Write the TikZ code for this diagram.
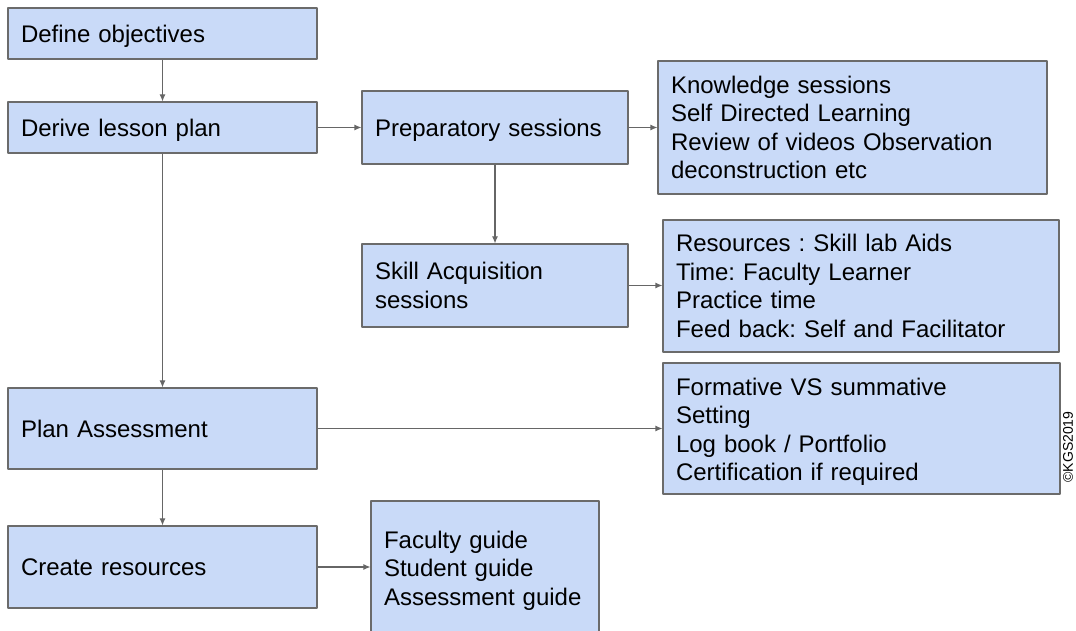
\documentclass[tikz,border=0pt]{standalone}
\usepackage{fontspec}
\setmainfont{Liberation Sans}
\usetikzlibrary{arrows.meta}
\definecolor{boxfill}{HTML}{C9DAF8}
\definecolor{boxline}{HTML}{6B6B6B}
\definecolor{linkline}{HTML}{666666}
\frenchspacing
\begin{document}
\begin{tikzpicture}[>={Latex[length=7bp,width=6bp]},line join=bevel,
  stagebox/.style={draw=boxline,line width=1.1bp,fill=boxfill,rectangle,
    inner xsep=13bp,inner ysep=0bp,align=left,
    font=\fontsize{24bp}{28.5bp}\selectfont},
  lowtext/.style={text depth=0bp},
  padtop/.style={execute at begin node={\rule{0bp}{24bp}}},
  link/.style={linkline,line width=1.1bp,->}]
%%
\useasboundingbox (0bp,0bp) rectangle (1076bp,631bp);
\clip (0bp,0bp) rectangle (1076bp,631bp);
%%
\node (node_objectives) at (162.5bp,597.5bp) [stagebox,lowtext,text width=283bp,minimum height=51bp] {Define objectives};
  \node (node_lesson) at (162.5bp,503.5bp) [stagebox,lowtext,text width=283bp,minimum height=51bp] {Derive lesson plan};
  \node (node_prep) at (495.0bp,503.5bp) [stagebox,lowtext,text width=240bp,minimum height=73bp] {Preparatory sessions};
  \node (node_knowledge) at (852.5bp,503.5bp) [stagebox,text width=363bp,minimum height=133bp] {Knowledge sessions\\Self Directed Learning\\Review of videos Observation\\deconstruction etc};
  \node (node_skill) at (495.0bp,345.5bp) [stagebox,text width=240bp,minimum height=83bp] {Skill Acquisition\\sessions};
  \node (node_resources) at (861.0bp,345.0bp) [stagebox,text width=370bp,minimum height=132bp] {Resources : Skill lab Aids\\Time: Faculty Learner\\Practice time\\Feed back: Self and Facilitator};
  \node (node_assessment) at (162.5bp,202.5bp) [stagebox,lowtext,text width=283bp,minimum height=81bp] {Plan Assessment};
  \node (node_formative) at (861.5bp,202.5bp) [stagebox,padtop,text width=371bp,minimum height=131bp] {Formative VS summative\\Setting\\Log book / Portfolio\\Certification if required};
  \node (node_create) at (162.5bp,64.0bp) [stagebox,lowtext,text width=283bp,minimum height=82bp] {Create resources};
  \node (node_guides) at (485.0bp,64.0bp) [stagebox,padtop,text width=202bp,minimum height=132bp] {Faculty guide\\Student guide\\Assessment guide};
  \node (node_copyright) at (1068.0bp,184.0bp) [rotate=90,inner sep=0bp,font=\fontsize{14bp}{16bp}\selectfont] {©KGS2019};
%
  \draw [link] (node_objectives) -- (node_lesson);
  \draw [link] (node_lesson) -- (node_prep);
  \draw [link] (node_prep) -- (node_knowledge);
  \draw [link] (node_prep) -- (node_skill);
  \draw [link] (node_skill) -- (node_resources.west |- node_skill);
  \draw [link] (node_lesson) -- (node_assessment);
  \draw [link] (node_assessment) -- (node_formative);
  \draw [link] (node_assessment) -- (node_create);
  \draw [link] (node_create) -- (node_guides);
%
\end{tikzpicture}
\end{document}
